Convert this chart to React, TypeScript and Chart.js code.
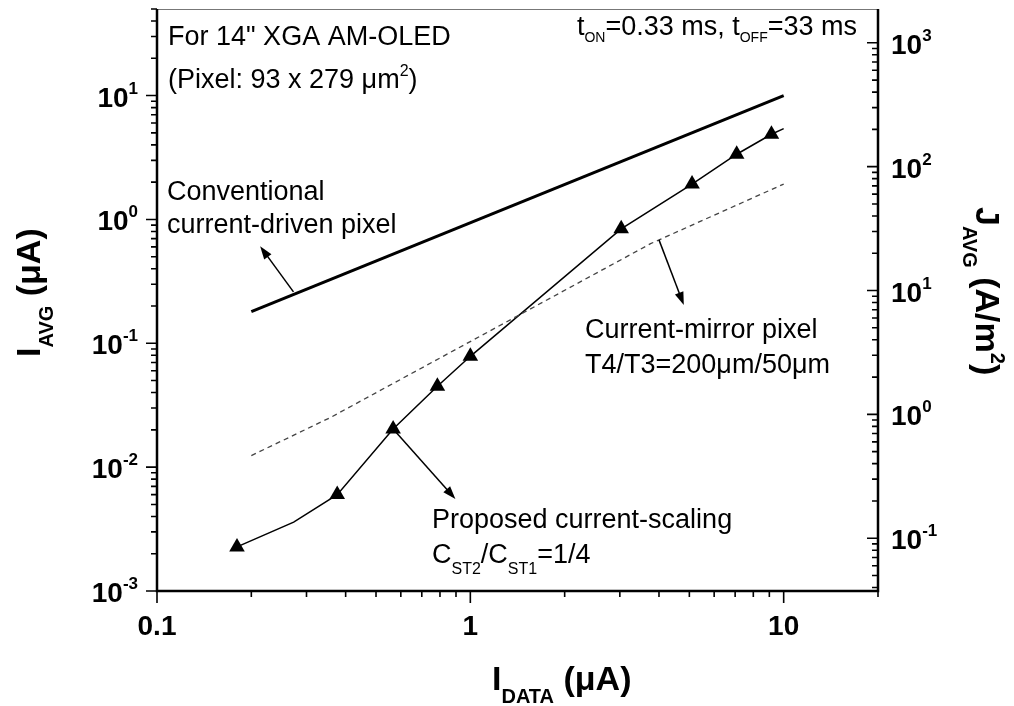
import React, { useEffect, useRef } from "react";
import { Chart, registerables } from "chart.js";

Chart.register(...registerables);

const FONT = "'Liberation Sans', Arial, Helvetica, sans-serif";

// Axis ranges
const X_RANGE = [0.1, 20];
const I_RANGE = [1e-3, 50];
const J_PER_I = 37.5; // A/m^2 per uA (pixel 93 x 279 um^2)

// Series: conventional current-driven pixel
const conventionalX = [0.2, 10];
const conventionalY = [0.18, 10];

// Series: current-mirror pixel (dashed)
const mirrorX = [0.2, 0.357, 3.76, 10];
const mirrorY = [0.0124, 0.0251, 0.637, 1.93];

// Series: proposed current-scaling (triangles)
const proposedX = [0.18, 0.273, 0.376, 0.567, 0.785, 1.0, 3.03, 5.1, 7.08, 9.14, 10];
const proposedY = [0.00227, 0.0036, 0.006, 0.0203, 0.045, 0.0785, 0.84, 1.93, 3.36, 4.87, 5.41];
const proposedMarked = [true, false, true, true, true, true, true, true, true, true, false];

// Tick labels
const xTickValues = [0.1, 1, 10];
const xTickLabels = ["0.1", "1", "10"];
const iTickExponents = [-3, -2, -1, 0, 1];
const jTickExponents = [-1, 0, 1, 2, 3];

// Annotation arrows in data coordinates [I_DATA, I_AVG]
const arrowFrom = [
  [0.2726, 0.26],
  [4.0, 0.684],
  [0.567, 0.0203],
];
const arrowTo = [
  [0.2134, 0.607],
  [4.8, 0.204],
  [0.896, 0.00553],
];

type Seg = { t: string; f: string; dy?: number };

const TICK = `bold 28px ${FONT}`;
const TICK_SUP = `bold 17px ${FONT}`;
const TXT = `27px ${FONT}`;
const TXT_SUB = `16px ${FONT}`;
const TXT_SUB_S = `14px ${FONT}`;
const TXT_SUP = `16px ${FONT}`;
const TITLE = `bold 34px ${FONT}`;
const TITLE_SUB = `bold 20px ${FONT}`;

function segWidth(ctx: CanvasRenderingContext2D, segs: Seg[]) {
  let w = 0;
  for (const s of segs) {
    ctx.font = s.f;
    w += ctx.measureText(s.t).width;
  }
  return w;
}

function drawSegs(ctx: CanvasRenderingContext2D, segs: Seg[], x: number, y: number) {
  let cx = x;
  ctx.textAlign = "left";
  ctx.textBaseline = "alphabetic";
  for (const s of segs) {
    ctx.font = s.f;
    ctx.fillText(s.t, cx, y + (s.dy || 0));
    cx += ctx.measureText(s.t).width;
  }
}

function drawArrow(ctx: CanvasRenderingContext2D, x1: number, y1: number, x2: number, y2: number) {
  const a = Math.atan2(y2 - y1, x2 - x1);
  const L = 13;
  const W = 4.5;
  ctx.beginPath();
  ctx.moveTo(x1, y1);
  ctx.lineTo(x2 - (L - 2) * Math.cos(a), y2 - (L - 2) * Math.sin(a));
  ctx.lineWidth = 1.5;
  ctx.strokeStyle = "#000";
  ctx.stroke();
  ctx.beginPath();
  ctx.moveTo(x2, y2);
  ctx.lineTo(x2 - L * Math.cos(a) + W * Math.sin(a), y2 - L * Math.sin(a) - W * Math.cos(a));
  ctx.lineTo(x2 - L * Math.cos(a) - W * Math.sin(a), y2 - L * Math.sin(a) + W * Math.cos(a));
  ctx.closePath();
  ctx.fillStyle = "#000";
  ctx.fill();
}

function minorValues(min: number, max: number) {
  const out: { v: number; major: boolean }[] = [];
  const e0 = Math.floor(Math.log10(min)) - 1;
  const e1 = Math.ceil(Math.log10(max)) + 1;
  for (let e = e0; e <= e1; e++) {
    for (let m = 1; m <= 9; m++) {
      const v = m * Math.pow(10, e);
      if (v >= min * 0.9999 && v <= max * 1.0001) out.push({ v, major: m === 1 });
    }
  }
  return out;
}

const decorPlugin = {
  id: "decor",
  afterDraw(chart: any) {
    const ctx: CanvasRenderingContext2D = chart.ctx;
    const { left, right, top, bottom } = chart.chartArea;
    const xs = chart.scales.x;
    const ys = chart.scales.y;
    const js = chart.scales.y2;
    ctx.save();
    ctx.fillStyle = "#000";
    ctx.strokeStyle = "#000";

    // frame
    ctx.lineWidth = 1.2;
    ctx.strokeStyle = "#777";
    ctx.beginPath();
    ctx.moveTo(left, top + 0.5);
    ctx.lineTo(right, top + 0.5);
    ctx.stroke();
    ctx.strokeStyle = "#000";
    ctx.lineWidth = 2.5;
    ctx.beginPath();
    ctx.moveTo(left, top);
    ctx.lineTo(left, bottom);
    ctx.lineTo(right, bottom);
    ctx.lineTo(right, top);
    ctx.stroke();

    // ticks
    ctx.lineWidth = 1.6;
    ctx.beginPath();
    for (const t of minorValues(X_RANGE[0], X_RANGE[1])) {
      const px = xs.getPixelForValue(t.v);
      ctx.moveTo(px, bottom);
      ctx.lineTo(px, bottom + (t.major ? 12 : 6));
    }
    for (const t of minorValues(I_RANGE[0], I_RANGE[1])) {
      const py = ys.getPixelForValue(t.v);
      ctx.moveTo(left, py);
      ctx.lineTo(left - (t.major ? 11 : 6), py);
    }
    for (const t of minorValues(I_RANGE[0] * J_PER_I, I_RANGE[1] * J_PER_I)) {
      const py = js.getPixelForValue(t.v);
      ctx.moveTo(right, py);
      ctx.lineTo(right - (t.major ? 11 : 6), py);
    }
    ctx.stroke();

    // tick labels
    ctx.fillStyle = "#000";
    xTickValues.forEach((v, i) => {
      const px = xs.getPixelForValue(v);
      ctx.font = TICK;
      ctx.textAlign = "center";
      ctx.textBaseline = "alphabetic";
      ctx.fillText(xTickLabels[i], px, 635);
    });
    for (const e of iTickExponents) {
      const py = ys.getPixelForValue(Math.pow(10, e));
      const segs: Seg[] = [
        { t: "10", f: TICK },
        { t: String(e), f: TICK_SUP, dy: -13 },
      ];
      const w = segWidth(ctx, segs);
      drawSegs(ctx, segs, left - 19 - w, py + 11);
    }
    for (const e of jTickExponents) {
      const py = js.getPixelForValue(Math.pow(10, e));
      const segs: Seg[] = [
        { t: "10", f: TICK },
        { t: String(e), f: TICK_SUP, dy: -13 },
      ];
      drawSegs(ctx, segs, right + 13, py + 11);
    }

    // axis titles
    drawSegs(
      ctx,
      [
        { t: "I", f: TITLE },
        { t: "DATA", f: TITLE_SUB, dy: 13 },
        { t: " (\u03bcA)", f: TITLE },
      ],
      492,
      690
    );
    ctx.save();
    ctx.translate(40, 357);
    ctx.rotate(-Math.PI / 2);
    drawSegs(
      ctx,
      [
        { t: "I", f: TITLE },
        { t: "AVG", f: TITLE_SUB, dy: 13 },
        { t: " (\u03bcA)", f: TITLE },
      ],
      0,
      0
    );
    ctx.restore();
    ctx.save();
    ctx.translate(976, 207);
    ctx.rotate(Math.PI / 2);
    drawSegs(
      ctx,
      [
        { t: "J", f: TITLE },
        { t: "AVG", f: TITLE_SUB, dy: 13 },
        { t: " (A/m", f: TITLE },
        { t: "2", f: TITLE_SUB, dy: -15 },
        { t: ")", f: TITLE },
      ],
      0,
      0
    );
    ctx.restore();

    // annotation texts
    drawSegs(ctx, [{ t: "For 14\" XGA AM-OLED", f: TXT }], 168, 45);
    drawSegs(
      ctx,
      [
        { t: "(Pixel: 93 x 279 \u03bcm", f: TXT },
        { t: "2", f: TXT_SUP, dy: -12 },
        { t: ")", f: TXT },
      ],
      168,
      88
    );
    const tSegs: Seg[] = [
      { t: "t", f: TXT },
      { t: "ON", f: TXT_SUB_S, dy: 7 },
      { t: "=0.33 ms, t", f: TXT },
      { t: "OFF", f: TXT_SUB_S, dy: 7 },
      { t: "=33 ms", f: TXT },
    ];
    drawSegs(ctx, tSegs, 857 - segWidth(ctx, tSegs), 35);
    drawSegs(ctx, [{ t: "Conventional", f: TXT }], 167, 200);
    drawSegs(ctx, [{ t: "current-driven pixel", f: TXT }], 167, 233);
    drawSegs(ctx, [{ t: "Current-mirror pixel", f: TXT }], 585, 338);
    drawSegs(ctx, [{ t: "T4/T3=200\u03bcm/50\u03bcm", f: TXT }], 585, 373);
    drawSegs(ctx, [{ t: "Proposed current-scaling", f: TXT }], 432, 528);
    drawSegs(
      ctx,
      [
        { t: "C", f: TXT },
        { t: "ST2", f: TXT_SUB, dy: 11 },
        { t: "/C", f: TXT },
        { t: "ST1", f: TXT_SUB, dy: 11 },
        { t: "=1/4", f: TXT },
      ],
      432,
      563
    );

    // arrows
    arrowFrom.forEach((f, i) => {
      const t = arrowTo[i];
      drawArrow(
        ctx,
        xs.getPixelForValue(f[0]),
        ys.getPixelForValue(f[1]),
        xs.getPixelForValue(t[0]),
        ys.getPixelForValue(t[1])
      );
    });

    ctx.restore();
  },
};

function pts(xs: number[], ys: number[]) {
  return xs.map((x, i) => ({ x, y: ys[i] }));
}

export default function App() {
  const ref = useRef<HTMLCanvasElement>(null);
  useEffect(() => {
    const canvas = ref.current;
    if (!canvas) return;
    const chart = new Chart(canvas, {
      type: "scatter",
      data: {
        datasets: [
          {
            label: "Conventional current-driven pixel",
            data: pts(conventionalX, conventionalY),
            showLine: true,
            borderColor: "#000",
            borderWidth: 3,
            pointRadius: 0,
            yAxisID: "y",
          },
          {
            label: "Current-mirror pixel",
            data: pts(mirrorX, mirrorY),
            showLine: true,
            borderColor: "#444",
            borderWidth: 1.3,
            borderDash: [5, 4],
            pointRadius: 0,
            yAxisID: "y",
          },
          {
            label: "Proposed current-scaling",
            data: pts(proposedX, proposedY),
            showLine: true,
            borderColor: "#000",
            borderWidth: 1.5,
            backgroundColor: "#000",
            pointBackgroundColor: "#000",
            pointBorderColor: "#000",
            pointBorderWidth: 0,
            pointStyle: "triangle",
            pointRadius: proposedMarked.map((m) => (m ? 9 : 0)),
            yAxisID: "y",
          },
        ],
      },
      options: {
        animation: false,
        responsive: false,
        maintainAspectRatio: false,
        devicePixelRatio: 1,
        events: [],
        layout: { padding: { top: 6, left: 0, right: 0, bottom: 0 } },
        plugins: {
          legend: { display: false },
          tooltip: { enabled: false },
        },
        scales: {
          x: {
            type: "logarithmic",
            position: "bottom",
            min: X_RANGE[0],
            max: X_RANGE[1],
            bounds: "data",
            grid: { display: false },
            border: { display: false },
            ticks: { display: false },
            afterFit: (s: any) => {
              s.height = 115;
            },
          },
          y: {
            type: "logarithmic",
            position: "left",
            min: I_RANGE[0],
            max: I_RANGE[1],
            bounds: "data",
            grid: { display: false },
            border: { display: false },
            ticks: { display: false },
            afterFit: (s: any) => {
              s.width = 157;
            },
          },
          y2: {
            type: "logarithmic",
            position: "right",
            min: I_RANGE[0] * J_PER_I,
            max: I_RANGE[1] * J_PER_I,
            bounds: "data",
            grid: { display: false },
            border: { display: false },
            ticks: { display: false },
            afterFit: (s: any) => {
              s.width = 136;
            },
          },
        },
      } as any,
      plugins: [decorPlugin],
    });
    return () => chart.destroy();
  }, []);
  return (
    <div style={{ position: "fixed", left: 0, top: 0, width: 1014, height: 706, background: "#fff" }}>
      <canvas ref={ref} width={1014} height={706} style={{ display: "block" }} />
    </div>
  );
}
